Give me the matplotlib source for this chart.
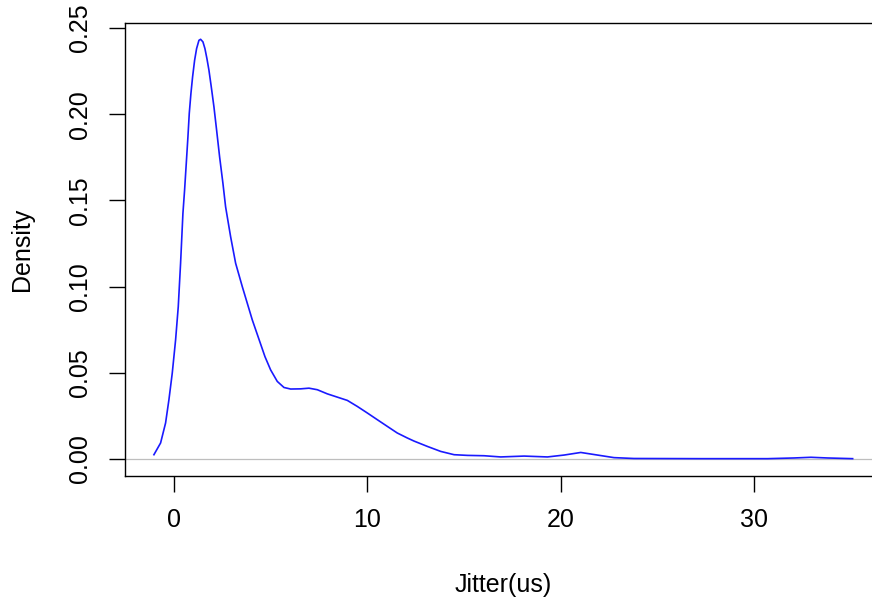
import numpy as np
import matplotlib
matplotlib.use("Agg")
import matplotlib.pyplot as plt

plt.rcParams['font.family'] = ['Liberation Sans', 'DejaVu Sans']

# density curve
jitter = [-1.043, -0.698, -0.440, -0.267, -0.095, 0.078, 0.216, 0.336, 0.457, 0.543,
          0.630, 0.716, 0.785, 0.871, 0.957, 1.061, 1.164, 1.285, 1.371, 1.492,
          1.595, 1.698, 1.802, 1.923, 2.061, 2.199, 2.354, 2.526, 2.664, 2.923,
          3.182, 3.527, 4.044, 4.699, 4.992, 5.337, 5.682, 6.027, 6.544, 6.975,
          7.407, 7.924, 8.441, 8.959, 9.476, 9.993, 10.51, 11.03, 11.54, 12.06,
          12.41, 13.10, 13.79, 14.48, 15.17, 16.03, 16.89, 18.10, 19.31, 20.17,
          21.03, 21.89, 22.75, 23.78, 27.24, 30.69, 32.06, 32.93, 33.79, 35.09]
density = [0.0025, 0.0093, 0.0209, 0.0344, 0.0498, 0.0691, 0.0884, 0.1136, 0.1425, 0.1560,
           0.1715, 0.1869, 0.2005, 0.2121, 0.2217, 0.2313, 0.2381, 0.2429, 0.2435, 0.2420,
           0.2381, 0.2323, 0.2256, 0.2159, 0.2043, 0.1908, 0.1753, 0.1599, 0.1463, 0.1290,
           0.1136, 0.1000, 0.0807, 0.0594, 0.0517, 0.0450, 0.0415, 0.0406, 0.0407, 0.0411,
           0.0402, 0.0378, 0.0359, 0.0340, 0.0305, 0.0267, 0.0228, 0.0189, 0.0151, 0.0122,
           0.0104, 0.0073, 0.0044, 0.0025, 0.0021, 0.0019, 0.0012, 0.0017, 0.0012, 0.0023,
           0.0038, 0.0023, 0.0008, 0.0003, 0.0002, 0.0002, 0.0006, 0.0010, 0.0006, 0.0002]

xticks = [0, 10, 20, 30]
yticks = [0.00, 0.05, 0.10, 0.15, 0.20, 0.25]

W, H = 872, 601
fig = plt.figure(figsize=(W / 100, H / 100), dpi=100)
# R pads the data range by 4%; the right edge of the box falls off the image
ax = fig.add_axes([125 / W, (H - 475.8) / H, (880.6 - 125) / W, (475.8 - 22.5) / H])

ax.axhline(0, color='#bebebe', lw=0.9, zorder=1)
ax.plot(jitter, density, color='#1a1aff', lw=1.2, zorder=2)

rng = max(jitter) - min(jitter)
ax.set_xlim(min(jitter) - 0.04 * rng - 0.05, max(jitter) + 0.04 * rng)
ax.set_ylim(-0.04 * max(density), max(density) * 1.04)

ax.set_xticks(xticks)
ax.set_xticklabels([str(t) for t in xticks])
ax.set_yticks(yticks)
ax.set_yticklabels(['%.2f' % t for t in yticks], rotation=90, va='center')

ax.tick_params(direction='out', length=11.5, width=1.0, labelsize=18, pad=12)
for s in ax.spines.values():
    s.set_linewidth(1.0)

ax.set_xlabel('Jitter(us)', fontsize=18)
ax.set_ylabel('Density', fontsize=18)
ax.xaxis.set_label_coords(0.5, (475.8 - 573) / 453.3)
ax.yaxis.set_label_coords((34 - 125) / 755.6, 0.5)

fig.savefig('out.png', dpi=100)
